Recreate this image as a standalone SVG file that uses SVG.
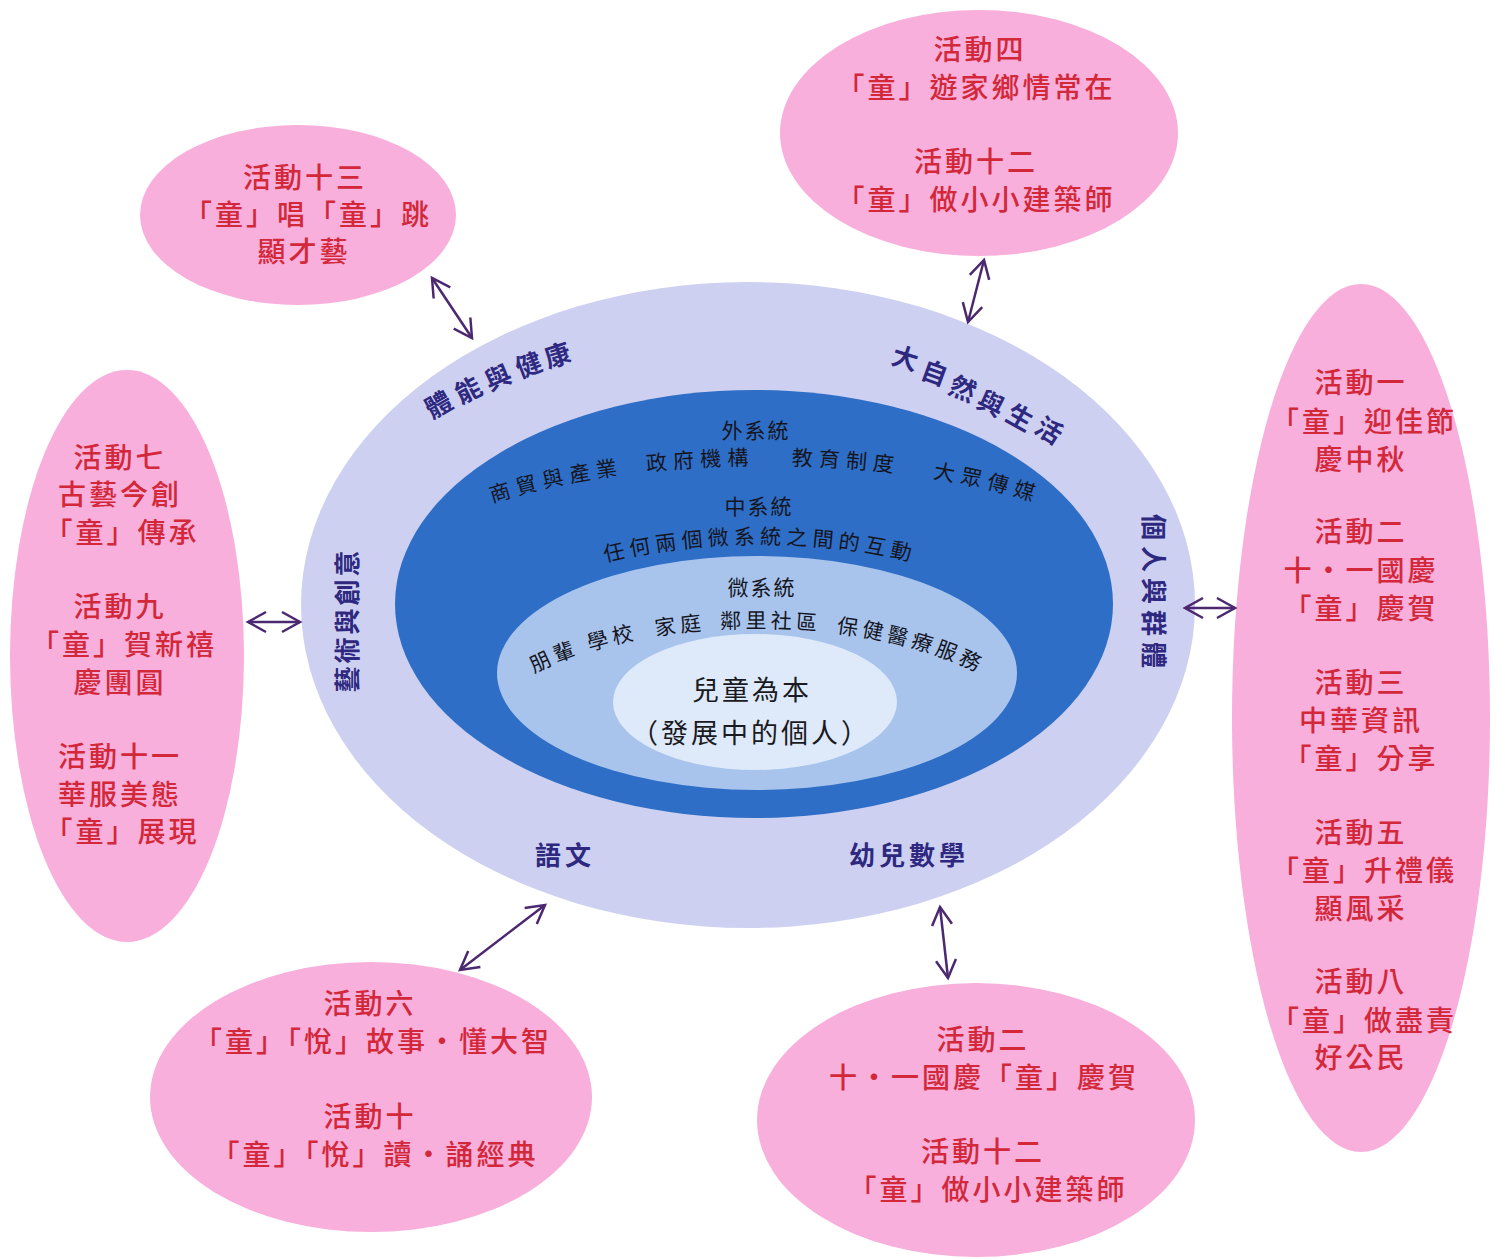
<svg xmlns="http://www.w3.org/2000/svg" width="1495" height="1259" viewBox="0 0 1495 1259">
<style>
text{font-family:"Noto Sans CJK TC","Noto Sans CJK SC",sans-serif}
.pk{fill:#F8AFDB}
.pt{font-size:28px;font-weight:500;letter-spacing:3px;fill:#D2283A;text-anchor:middle;dominant-baseline:central}
.dl{font-size:26px;font-weight:bold;fill:#2E2880;text-anchor:middle;dominant-baseline:central}
.bt{font-size:21px;fill:#15151f;letter-spacing:4px}
.btc{font-size:21px;fill:#15151f;letter-spacing:2px;text-anchor:middle;dominant-baseline:central}
.ct{font-size:27px;fill:#1a1a22;letter-spacing:3px;text-anchor:middle;dominant-baseline:central}
.ar{stroke:#4B2870;stroke-width:2.5;fill:none;marker-start:url(#h);marker-end:url(#h)}
</style>
<defs>
<marker id="h" markerUnits="userSpaceOnUse" viewBox="0 0 24 24" markerWidth="24" markerHeight="24" refX="20" refY="12" orient="auto-start-reverse">
<path d="M2,2 L20,12 L2,22" fill="none" stroke="#4B2870" stroke-width="2.5"/>
</marker>
<path id="p1" d="M 365 606 A 400 141 0 0 1 1165 606"/>
<path id="p2" d="M 460 671 A 300 127 0 0 1 1060 671"/>
<path id="p3" d="M 467 754 A 290 126 0 0 1 1047 754"/>
</defs>
<rect width="1495" height="1259" fill="#ffffff"/>

<g id="core">
<ellipse cx="748" cy="605" rx="447" ry="323" fill="#CDD0F0"/>
<ellipse cx="754" cy="604" rx="359" ry="214" fill="#2E6EC6"/>
<ellipse cx="757" cy="673" rx="260" ry="117" fill="#A8C4EC"/>
<ellipse cx="755" cy="702" rx="142" ry="68" fill="#DEEAFA"/>
<text class="btc" x="756" y="429">外系統</text>
<text class="bt" style="letter-spacing:6px"><textPath href="#p1" startOffset="50%" text-anchor="middle">商貿與產業<tspan dx="23">政府機構</tspan><tspan dx="37">教育制度</tspan><tspan dx="34">大眾傳媒</tspan></textPath></text>
<text class="btc" x="759" y="505">中系統</text>
<text class="bt" style="letter-spacing:5px"><textPath href="#p2" startOffset="50%" text-anchor="middle">任何兩個微系統之間的互動</textPath></text>
<text class="btc" x="762" y="586">微系統</text>
<text class="bt"><textPath href="#p3" startOffset="50%" text-anchor="middle">朋輩<tspan dx="10">學校</tspan><tspan dx="18">家庭</tspan><tspan dx="15">鄰里社區</tspan><tspan dx="16">保健醫療服務</tspan></textPath></text>
<text class="ct" x="752" y="688">兒童為本</text>
<text class="ct" x="751" y="731">（發展中的個人）</text>
</g>

<g id="domains">
<text class="dl" x="445 474 503 533 561" y="408 393 380 367 357" rotate="-30 -27 -24 -21 -18">體能與健康</text>
<text class="dl" x="903 932 960 988 1017 1046" y="352 366 381 395 408 420" rotate="17 20 23 26 29 32">大自然與生活</text>
<text class="dl" style="letter-spacing:3px" transform="translate(345,620) rotate(-90)">藝術與創意</text>
<text class="dl" style="letter-spacing:6px" transform="translate(1155,594) rotate(90)">個人與群體</text>
<text class="dl" style="letter-spacing:4px" x="565" y="853">語文</text>
<text class="dl" style="letter-spacing:4px" x="909" y="853">幼兒數學</text>
</g>

<g id="act13">
<ellipse class="pk" cx="298" cy="215" rx="158" ry="90"/>
<text class="pt" x="305" y="176">活動十三</text>
<text class="pt" x="308" y="213">「童」唱「童」跳</text>
<text class="pt" x="304" y="250">顯才藝</text>
</g>

<g id="act4-12">
<ellipse class="pk" cx="979" cy="133" rx="199" ry="123"/>
<text class="pt" x="980" y="48">活動四</text>
<text class="pt" x="976" y="86">「童」遊家鄉情常在</text>
<text class="pt" x="976" y="160">活動十二</text>
<text class="pt" x="976" y="198">「童」做小小建築師</text>
</g>

<g id="act-right">
<ellipse class="pk" cx="1361" cy="718" rx="129" ry="434"/>
<text class="pt" x="1361" y="381">活動一</text>
<text class="pt" x="1364" y="420">「童」迎佳節</text>
<text class="pt" x="1361" y="458">慶中秋</text>
<text class="pt" x="1361" y="530">活動二</text>
<text class="pt" x="1361" y="569">十・一國慶</text>
<text class="pt" x="1361" y="607">「童」慶賀</text>
<text class="pt" x="1361" y="681">活動三</text>
<text class="pt" x="1361" y="719">中華資訊</text>
<text class="pt" x="1361" y="757">「童」分享</text>
<text class="pt" x="1361" y="831">活動五</text>
<text class="pt" x="1364" y="869">「童」升禮儀</text>
<text class="pt" x="1361" y="907">顯風采</text>
<text class="pt" x="1361" y="980">活動八</text>
<text class="pt" x="1364" y="1019">「童」做盡責</text>
<text class="pt" x="1361" y="1056">好公民</text>
</g>

<g id="act-left">
<ellipse class="pk" cx="127" cy="656" rx="117" ry="286"/>
<text class="pt" x="120" y="456">活動七</text>
<text class="pt" x="120" y="493">古藝今創</text>
<text class="pt" x="122" y="531">「童」傳承</text>
<text class="pt" x="120" y="605">活動九</text>
<text class="pt" x="124" y="643">「童」賀新禧</text>
<text class="pt" x="120" y="681">慶團圓</text>
<text class="pt" x="120" y="755">活動十一</text>
<text class="pt" x="120" y="793">華服美態</text>
<text class="pt" x="122" y="830">「童」展現</text>
</g>

<g id="act6-10">
<ellipse class="pk" cx="371" cy="1097" rx="221" ry="135"/>
<text class="pt" x="370" y="1002">活動六</text>
<text class="pt" x="373" y="1040">「童」「悅」故事・懂大智</text>
<text class="pt" x="370" y="1115">活動十</text>
<text class="pt" x="375" y="1153">「童」「悅」讀・誦經典</text>
</g>

<g id="act2-12">
<ellipse class="pk" cx="976" cy="1120" rx="219" ry="137"/>
<text class="pt" x="983" y="1038">活動二</text>
<text class="pt" x="984" y="1076">十・一國慶「童」慶賀</text>
<text class="pt" x="983" y="1150">活動十二</text>
<text class="pt" x="988" y="1188">「童」做小小建築師</text>
</g>

<g id="connectors">
<line class="ar" x1="432" y1="278" x2="472" y2="338"/>
<line class="ar" x1="984" y1="260" x2="968" y2="322"/>
<line class="ar" x1="248" y1="622" x2="300" y2="622"/>
<line class="ar" x1="1185" y1="608" x2="1235" y2="608"/>
<line class="ar" x1="545" y1="905" x2="460" y2="970"/>
<line class="ar" x1="940" y1="907" x2="948" y2="978"/>
</g>
</svg>
